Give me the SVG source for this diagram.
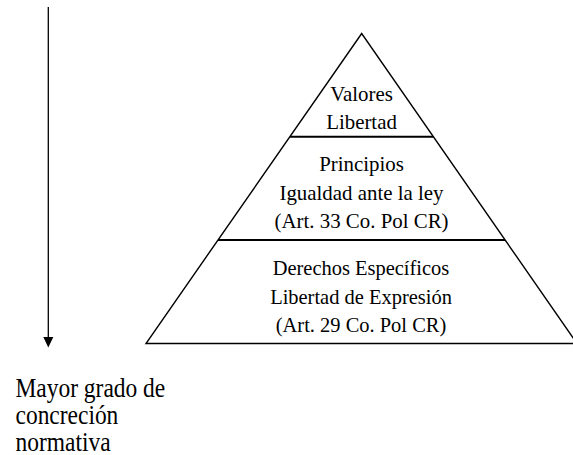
<svg xmlns="http://www.w3.org/2000/svg" width="573" height="455" viewBox="0 0 573 455">
<style>
.t{font-family:"Liberation Serif","Times New Roman",serif;fill:#000}
.p{font-size:22px;text-anchor:middle}
.l{font-size:26.5px}
.s{fill:none;stroke:#000}
</style>
<rect width="573" height="455" fill="#fff"/>
<g id="connectors">
<line class="s" x1="48.3" y1="7" x2="48.3" y2="338" stroke-width="1.3"/>
<polygon points="43.3,337 53.3,337 48.3,347.5" fill="#000"/>
</g>
<g id="pyramid">
<polygon class="s" points="361.7,33.5 146,343.5 577,343.5" stroke-width="1.4"/>
<line class="s" x1="290" y1="136.7" x2="433" y2="136.7" stroke-width="2"/>
<line class="s" x1="218" y1="240" x2="505" y2="240" stroke-width="2"/>
</g>
<g id="valores" class="t p" transform="translate(361.5,0) scale(0.95,1)">
<text x="0" y="101">Valores</text>
<text x="0" y="129.5">Libertad</text>
</g>
<g id="principios" class="t p" transform="translate(361.5,0) scale(0.95,1)">
<text x="0" y="171.2">Principios</text>
<text x="0" y="199.7">Igualdad ante la ley</text>
<text x="0" y="228">(Art. 33 Co. Pol CR)</text>
</g>
<g id="derechos" class="t p" transform="translate(361,0) scale(0.93,1)">
<text x="0" y="275.5">Derechos Específicos</text>
<text x="0" y="303.7">Libertad de Expresión</text>
<text x="0" y="332">(Art. 29 Co. Pol CR)</text>
</g>
<g id="label" class="t l" transform="translate(15.5,0) scale(0.885,1)">
<text x="0" y="397">Mayor grado de</text>
<text x="0" y="424">concreción</text>
<text x="0" y="451">normativa</text>
</g>
</svg>
